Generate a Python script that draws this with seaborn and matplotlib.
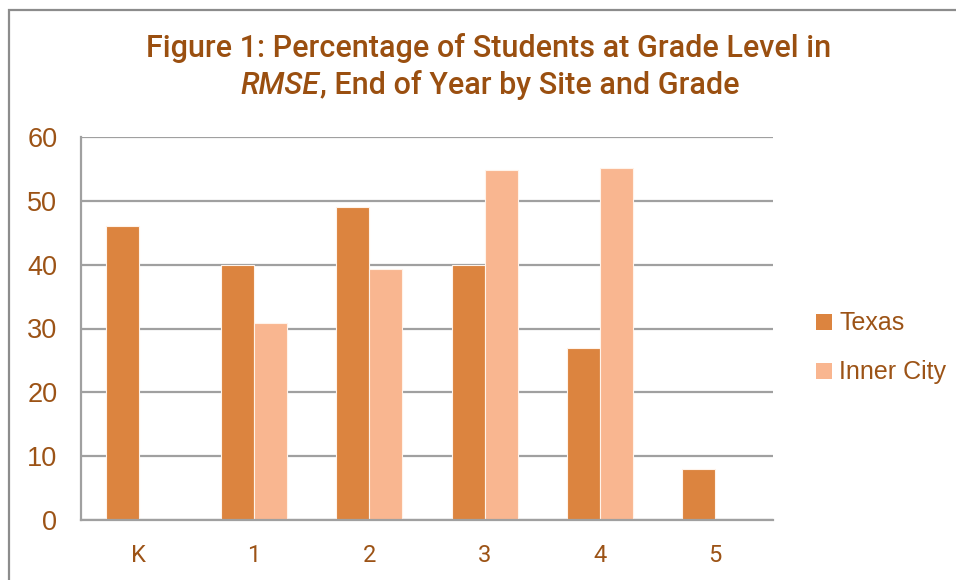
import matplotlib
matplotlib.use("Agg")
import matplotlib.pyplot as plt
import matplotlib.patches as mpatches
import pandas as pd
import seaborn as sns

grades = ["K", "1", "2", "3", "4", "5"]
texas = [46, 40, 49, 40, 27, 8]
inner_city = [None, 30.8, 39.3, 54.8, 55.1, None]
sites = ["Texas", "Inner City"]
colors = ["#DC843F", "#F9B690"]
yticks = [0, 10, 20, 30, 40, 50, 60]

title_color = "#9A4F10"
text_color = "#9C5316"
grid_color = "#A0A0A0"

# long form table for seaborn, skip the missing values
rows = []
for g, t, ic in zip(grades, texas, inner_city):
    rows.append({"grade": g, "site": "Texas", "pct": t})
    if ic is not None:
        rows.append({"grade": g, "site": "Inner City", "pct": ic})
df = pd.DataFrame(rows)

sns.set_theme(style="white")
plt.rcParams["font.family"] = ["Liberation Sans", "DejaVu Sans"]
narrow_font = ["Roboto", "Liberation Sans", "DejaVu Sans"]

fig = plt.figure(figsize=(9.56, 5.8), dpi=100)
ax = fig.add_axes([81 / 956, 60 / 580, 692 / 956, 383 / 580])

sns.barplot(
    data=df, x="grade", y="pct", hue="site",
    order=grades, hue_order=sites, palette=colors,
    width=0.575, edgecolor="#FFF3EA", linewidth=0.8,
    saturation=1, ax=ax, legend=False,
)

ax.set_ylim(0, 60)
ax.set_yticks(yticks)
ax.set_xlim(-0.5, len(grades) - 0.5)
ax.set_xlabel("")
ax.set_ylabel("")
ax.yaxis.grid(True, color=grid_color, linewidth=1.6)
ax.set_axisbelow(True)
for side in ["top", "right"]:
    ax.spines[side].set_visible(False)
for side in ["left", "bottom"]:
    ax.spines[side].set_color(grid_color)
    ax.spines[side].set_linewidth(1.6)
ax.tick_params(axis="y", length=0, pad=17, labelsize=19.5, labelcolor=text_color)
ax.tick_params(axis="x", length=0, pad=17, labelsize=17, labelcolor=text_color)
for lab in ax.get_xticklabels():
    lab.set_family(narrow_font)

# legend on the right
handles = [mpatches.Patch(facecolor=c, edgecolor="none", label=s)
           for c, s in zip(colors, sites)]
fig.legend(
    handles=handles, loc="center left",
    bbox_to_anchor=(816 / 956, (580 - 348) / 580),
    frameon=False, fontsize=18, labelcolor=text_color,
    handlelength=0.62, handleheight=0.62, handletextpad=0.3,
    labelspacing=1.0, borderpad=0, borderaxespad=0,
)

# title, two lines, RMSE in italics
fig.text(489 / 956, 1 - 48 / 580,
         "Figure 1: Percentage of Students at Grade Level in",
         ha="center", va="center", fontsize=22, color=title_color,
         family=narrow_font, weight="medium")
part_a = fig.text(0, 1 - 85 / 580, "RMSE", ha="left", va="center",
                  fontsize=22, color=title_color, family=narrow_font,
                  style="italic", weight="medium")
part_b = fig.text(0, 1 - 85 / 580, ", End of Year by Site and Grade",
                  ha="left", va="center", fontsize=22, color=title_color,
                  family=narrow_font, weight="medium")
fig.canvas.draw()
r = fig.canvas.get_renderer()
wa = part_a.get_window_extent(r).width
wb = part_b.get_window_extent(r).width
x0 = 490 - (wa + wb) / 2
part_a.set_x(x0 / 956)
part_b.set_x((x0 + wa) / 956)

# outer chart frame, cut off at right and bottom
fig.patches.append(mpatches.Rectangle(
    (9 / 956, -0.1), 1.2, 1 - 10 / 580 + 0.1, transform=fig.transFigure,
    fill=False, edgecolor="#8C8C8C", linewidth=1.6))

fig.savefig("out.png", dpi=100)
